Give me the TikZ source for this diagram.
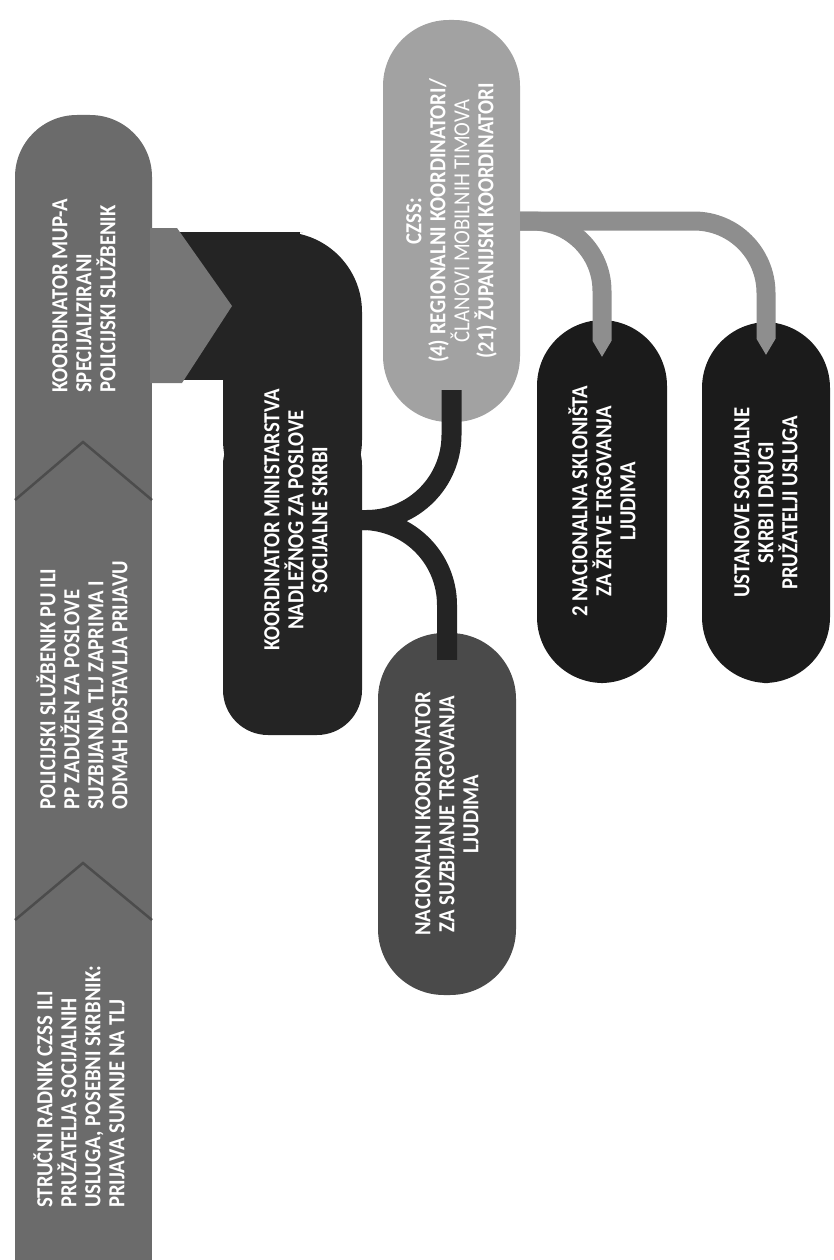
\documentclass[tikz,border=0pt]{standalone}
\usepackage{fontspec}
\setmainfont{Carlito}[FakeStretch=0.9]
\usetikzlibrary{arrows.meta}
\definecolor{bargray}{HTML}{6B6B6B}
\definecolor{arrowgray}{HTML}{767676}
\definecolor{seamgray}{HTML}{4C4C4C}
\definecolor{darkbox}{HTML}{242424}
\definecolor{nkgray}{HTML}{4A4A4A}
\definecolor{czssgray}{HTML}{A2A2A2}
\definecolor{blackbox}{HTML}{1B1B1B}
\definecolor{lightconn}{HTML}{8E8E8E}
\begin{document}
\begin{tikzpicture}[x=1pt,y=-1pt,
  lbl/.style={text=white, font=\bfseries\fontsize{23}{24}\selectfont, inner sep=0pt, rotate=90},
  capsule/.style={lbl, align=center, rounded corners=66pt, minimum height=#1},
  capsule/.default=137pt,
  darkconn/.style={draw=darkbox, line width=20pt, rounded corners=85pt},
  lightconn/.style={draw=lightconn, line width=19pt, rounded corners=70pt,
    -{Triangle[length=16pt, width=0pt 1, line width=0pt]}}]
\useasboundingbox (0,0) rectangle (833,1260);
% left bar (three upward stacked blocks)
\fill[bargray, rounded corners=62pt] (15,115) rectangle (152,400);
\fill[bargray] (15,300) rectangle (152,1260);
\draw[seamgray, line width=2.5pt, line join=miter] (15,500) -- (83,442) -- (152,500);
\draw[seamgray, line width=2.5pt, line join=miter] (15,920) -- (83,863) -- (152,920);
% dark hook box
\fill[darkbox] (165,232) rectangle (300,380);
\fill[darkbox, rounded corners=80pt] (223,232) rectangle (362,520);
\fill[darkbox, rounded corners=45pt] (223,420) rectangle (362,735);
% gray arrow from the police coordinator to the ministry coordinator
\fill[arrowgray] (150,228) -- (177,228) -- (232,306) -- (182,383) -- (150,383) -- cycle;
% texts in the left bar
\node[lbl, anchor=west, align=left] (mup) at (84,393)
  {KOORDINATOR MUP-A\\SPECIJALIZIRANI\\POLICIJSKI SLUŽBENIK};
\node[lbl, anchor=west, align=left] (pol) at (82,810)
  {POLICIJSKI SLUŽBENIK PU ILI\\PP ZADUŽEN ZA POSLOVE\\SUZBIJANJA TLJ ZAPRIMA I\\ODMAH DOSTAVLJA PRIJAVU};
\node[lbl, anchor=west, align=left] (str) at (79,1208)
  {STRUČNI RADNIK CZSS ILI\\PRUŽATELJA SOCIJALNIH\\USLUGA, POSEBNI SKRBNIK:\\PRIJAVA SUMNJE NA TLJ};
\node[lbl, align=center] (mk) at (296,520)
  {KOORDINATOR MINISTARSTVA\\NADLEŽNOG ZA POSLOVE\\SOCIJALNE SKRBI};
\coordinate (fork) at (362,520);
% capsules
\node[capsule, fill=czssgray, minimum width=402pt] (czss) at (451.5,221)
  {CZSS:\\(4) REGIONALNI KOORDINATORI/\\{\mdseries ČLANOVI MOBILNIH TIMOVA}\\(21) ŽUPANIJSKI KOORDINATORI};
\node[capsule=138pt, fill=nkgray, minimum width=362pt] (nk) at (447,814)
  {NACIONALNI KOORDINATOR\\ZA SUZBIJANJE TRGOVANJA\\LJUDIMA};
\node[capsule=130pt, fill=blackbox, minimum width=363pt] (skl) at (602,501.5)
  {2 NACIONALNA SKLONIŠTA\\ZA ŽRTVE TRGOVANJA\\LJUDIMA};
\node[capsule=128pt, fill=blackbox, minimum width=361pt] (ust) at (766,502.5)
  {USTANOVE SOCIJALNE\\SKRBI I DRUGI\\PRUŽATELJI USLUGA};
% connectors
\draw[darkconn] (fork) -| ([yshift=32pt]czss.west);
\draw[darkconn] (fork) -| ([yshift=-27pt]nk.east);
\draw[lightconn] (czss.south) -| ([yshift=-37pt]skl.east);
\draw[lightconn, rounded corners=72pt] (czss.south) -| ([yshift=-33pt]ust.east);
\end{tikzpicture}
\end{document}
